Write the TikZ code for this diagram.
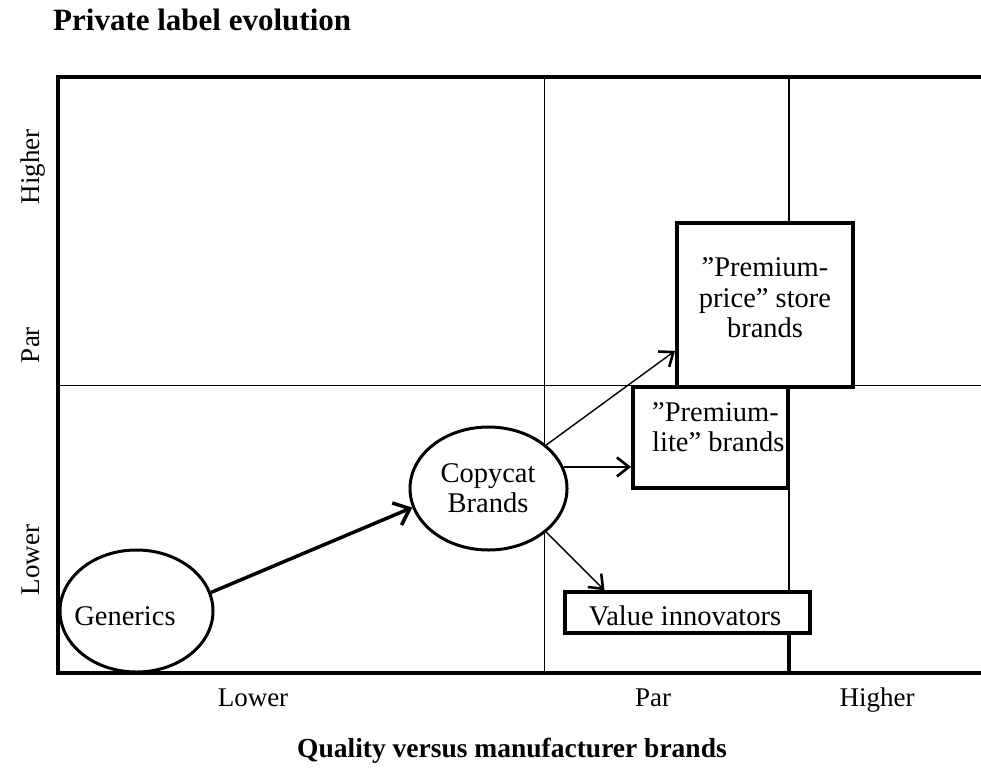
\documentclass[tikz,border=0pt]{standalone}
\usepackage{fontspec}
\setmainfont{Liberation Serif}
\usetikzlibrary{shapes.geometric,arrows.meta}

\begin{document}
\begin{tikzpicture}[x=1pt,y=-1pt,
  oval/.style={ellipse, draw, line width=3pt, fill=white, inner sep=0pt},
  card/.style={rectangle, draw, line width=4pt, fill=white, inner sep=0pt},
  lbl/.style={font=\fontsize{28.5}{30.5}\selectfont, inner sep=0pt},
  axislbl/.style={font=\fontsize{27}{30}\selectfont, inner sep=0pt, anchor=base},
  heading/.style={font=\bfseries\fontsize{31}{34}\selectfont, inner sep=0pt},
  gridline/.style={line width=1.5pt},
  framebox/.style={line width=4pt, line join=miter},
  link/.style={line width=1.4pt, -{Straight Barb[length=12pt,width=19pt,line width=2.6pt]}},
  biglink/.style={line width=3.5pt, -{Straight Barb[length=14pt,width=24pt,line width=3.5pt]}},
]
\useasboundingbox (0,0) rectangle (981,771);

% quadrant grid
\draw[gridline] (544.5,77) -- (544.5,673);
\draw[gridline] (789,77) -- (789,673);
\draw[gridline] (58,385.5) -- (981,385.5);

% outer frame (open to the right)
\draw[framebox] (981,672.5) -- (58,672.5) -- (58,77) -- (981,77);

% title
\node[heading, anchor=base west] (title) at (53,30) {Private label evolution};

% vertical axis labels
\node[axislbl, rotate=90] (yhigh) at (39,167) {Higher};
\node[axislbl, rotate=90] (ypar) at (39,345) {Par};
\node[axislbl, rotate=90] (ylow) at (39,560) {Lower};

% horizontal axis labels
\node[axislbl] (xlow) at (253,706) {Lower};
\node[axislbl] (xpar) at (653,706) {Par};
\node[axislbl] (xhigh) at (877,706) {Higher};
\node[heading, font=\bfseries\fontsize{27.5}{30}\selectfont, anchor=base] (xcap) at (512,757) {Quality versus manufacturer brands};

% brand types
\node[oval, minimum width=153pt, minimum height=122pt] (gen) at (136.5,611) {};
\node[lbl, anchor=base] (gentext) at (125,625) {Generics};

\node[oval, minimum width=157pt, minimum height=123pt] (copy) at (488.5,488.5) {};
\node[lbl, align=center] (copytext) at (488,488) {Copycat\\Brands};

\node[card, minimum width=176pt, minimum height=164pt] (price) at (765,305) {};
\node[lbl, align=center] (pricetext) at (765,298) {”Premium-\\price” store\\brands};

\node[card, minimum width=155pt, minimum height=101pt] (lite) at (710.5,437.5) {};
\node[lbl, align=left, anchor=west] (litetext) at (652,427) {”Premium-\\lite” brands};

\node[card, line width=3.5pt, minimum width=245pt, minimum height=41pt] (value) at (687.5,612.5) {};
\node[lbl, anchor=base] (valuetext) at (685,625) {Value innovators};

% heavy tick below the value box
\draw[line width=4pt] (value.south -| 789,0) -- (789,672.5);

% evolution paths
\draw[biglink] (gen.14) -- (copy.194);
\draw[link] (copy.37) -- (price.207);
\draw[link] (copy.16) -- (copy.16 -| lite.west);
\draw[link] (copy.323) -- (value.165);
\end{tikzpicture}
\end{document}
